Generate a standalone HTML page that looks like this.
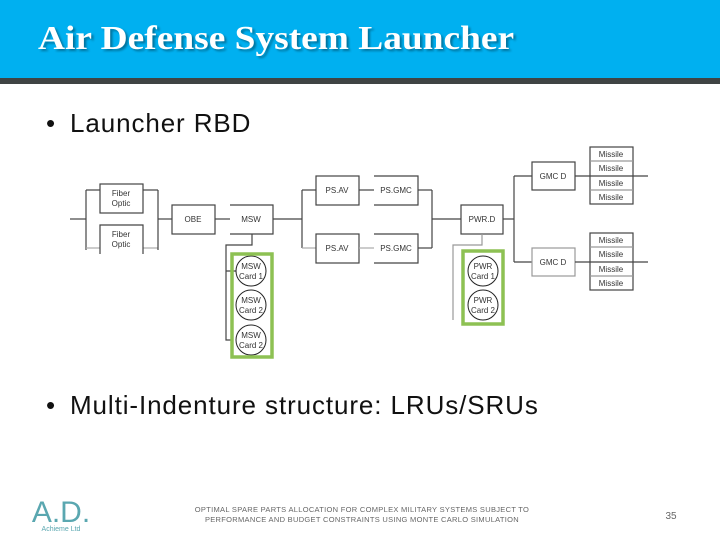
<!DOCTYPE html>
<html><head><style>
body{margin:0;width:720px;height:540px;overflow:hidden;background:#fff;font-family:"Liberation Sans",sans-serif;position:relative}
.hdr{position:absolute;left:0;top:0;width:720px;height:78px;background:#00b0f0}
.bar{position:absolute;left:0;top:78px;width:720px;height:6px;background:#3f4444}
.title{position:absolute;left:38px;top:20px;font-family:"Liberation Serif",serif;font-weight:bold;font-size:34px;color:#fff;text-shadow:2px 2px 2px rgba(0,0,0,.35);transform-origin:0 0;transform:scaleX(1.1);white-space:nowrap}
.b{position:absolute;font-size:26px;color:#111;letter-spacing:0.9px;white-space:nowrap}
.b span{display:inline-block;width:24px}
.foot{position:absolute;left:180px;width:364px;top:505px;text-align:center;font-size:7.5px;line-height:10px;color:#666;letter-spacing:0.3px}
</style></head><body>
<div class="hdr"></div><div class="bar"></div>
<div class="title">Air Defense System Launcher</div>
<div class="b" style="left:46px;top:108px"><span>•</span>Launcher RBD</div>
<div class="b" style="left:46px;top:390px"><span>•</span>Multi-Indenture structure: LRUs/SRUs</div>
<svg style="position:absolute;left:0;top:0" width="720" height="540" font-family="Liberation Sans,sans-serif" font-size="8" fill="none" stroke="#444" stroke-width="1.2">
<g>
<line x1="70" y1="219" x2="86" y2="219"/>
<line x1="86" y1="190" x2="86" y2="250"/>
<line x1="86" y1="190" x2="100" y2="190"/><line x1="143" y1="190" x2="158" y2="190"/>
<line x1="86" y1="248" x2="100" y2="248" stroke="#aaa"/><line x1="143" y1="248" x2="158" y2="248" stroke="#aaa"/>
<line x1="158" y1="190" x2="158" y2="250"/>
<rect x="100" y="184" width="43" height="29"/>
<path d="M100 254V225H143V254"/>
<line x1="158" y1="219" x2="172" y2="219"/>
<rect x="172" y="205" width="43" height="29"/>
<line x1="215" y1="219" x2="230" y2="219"/>
<path d="M230 205H273V234H230" />
<line x1="273" y1="219" x2="302" y2="219"/>
<line x1="302" y1="190" x2="302" y2="248"/>
<line x1="302" y1="190" x2="316" y2="190"/><line x1="302" y1="248" x2="316" y2="248" stroke="#aaa"/>
<rect x="316" y="176" width="43" height="29"/><rect x="316" y="234" width="43" height="29"/>
<line x1="359" y1="190" x2="374" y2="190"/><line x1="359" y1="248" x2="374" y2="248" stroke="#aaa"/>
<path d="M374 176H418V205H374"/><path d="M374 234H418V263H374"/>
<line x1="418" y1="190" x2="432" y2="190"/><line x1="418" y1="248" x2="432" y2="248"/>
<line x1="432" y1="190" x2="432" y2="248"/>
<line x1="432" y1="219" x2="461" y2="219"/>
<rect x="461" y="205" width="42" height="29"/>
<line x1="503" y1="219" x2="514" y2="219"/>
<line x1="514" y1="176" x2="514" y2="262"/>
<line x1="514" y1="176" x2="532" y2="176"/><line x1="514" y1="262" x2="532" y2="262"/>
<rect x="532" y="162" width="43" height="28"/><rect x="532" y="248" width="43" height="28" stroke="#999"/>
<line x1="575" y1="176" x2="648" y2="176"/><line x1="575" y1="262" x2="648" y2="262"/>
<rect x="590" y="147" width="43" height="57"/><rect x="590" y="233" width="43" height="57"/>
<path d="M590 161H633M590 190H633M590 247H633M590 276H633" stroke="#999"/>
<path d="M252 234V245H226V340H232M226 271H236"/>
<path d="M482 234V245H453V320" stroke="#999"/>
<g stroke="#222" stroke-width="1"><circle cx="251" cy="271" r="15"/><circle cx="251" cy="305" r="15"/><circle cx="251" cy="340" r="15"/><circle cx="483" cy="271" r="15"/><circle cx="483" cy="305" r="15"/></g>
<rect x="232" y="254" width="40" height="103" stroke="#8dc153" stroke-width="3.5"/>
<rect x="463" y="251" width="40" height="73" stroke="#8dc153" stroke-width="3.5"/>
</g>
<g fill="#333" stroke="none" text-anchor="middle">
<text x="121" y="196">Fiber</text><text x="121" y="206">Optic</text>
<text x="121" y="237">Fiber</text><text x="121" y="247">Optic</text>
<text x="193" y="222">OBE</text><text x="251" y="222">MSW</text>
<text x="337" y="193">PS.AV</text><text x="337" y="251">PS.AV</text>
<text x="396" y="193">PS.GMC</text><text x="396" y="251">PS.GMC</text>
<text x="482" y="222">PWR.D</text>
<text x="553" y="179">GMC D</text><text x="553" y="265">GMC D</text>
<text x="611" y="157">Missile</text><text x="611" y="171">Missile</text><text x="611" y="186">Missile</text><text x="611" y="200">Missile</text>
<text x="611" y="243">Missile</text><text x="611" y="257">Missile</text><text x="611" y="272">Missile</text><text x="611" y="286">Missile</text>
<text x="251" y="269">MSW</text><text x="251" y="279">Card 1</text>
<text x="251" y="303">MSW</text><text x="251" y="313">Card 2</text>
<text x="251" y="338">MSW</text><text x="251" y="348">Card 2</text>
<text x="483" y="269">PWR</text><text x="483" y="279">Card 1</text>
<text x="483" y="303">PWR</text><text x="483" y="313">Card 2</text>
</g>
<text x="61" y="522" text-anchor="middle" font-family="Liberation Sans,sans-serif" font-size="30" fill="#5aa7b0" stroke="none">A.D.</text>
<text x="61" y="531" text-anchor="middle" font-size="7" fill="#5aa7b0" stroke="none">Achieme Ltd</text>
<text x="671" y="519" text-anchor="middle" font-size="10" fill="#666" stroke="none">35</text>
</svg>
<div class="foot">OPTIMAL SPARE PARTS ALLOCATION FOR COMPLEX MILITARY SYSTEMS SUBJECT TO<br>PERFORMANCE AND BUDGET CONSTRAINTS USING MONTE CARLO SIMULATION</div>
</body></html>
